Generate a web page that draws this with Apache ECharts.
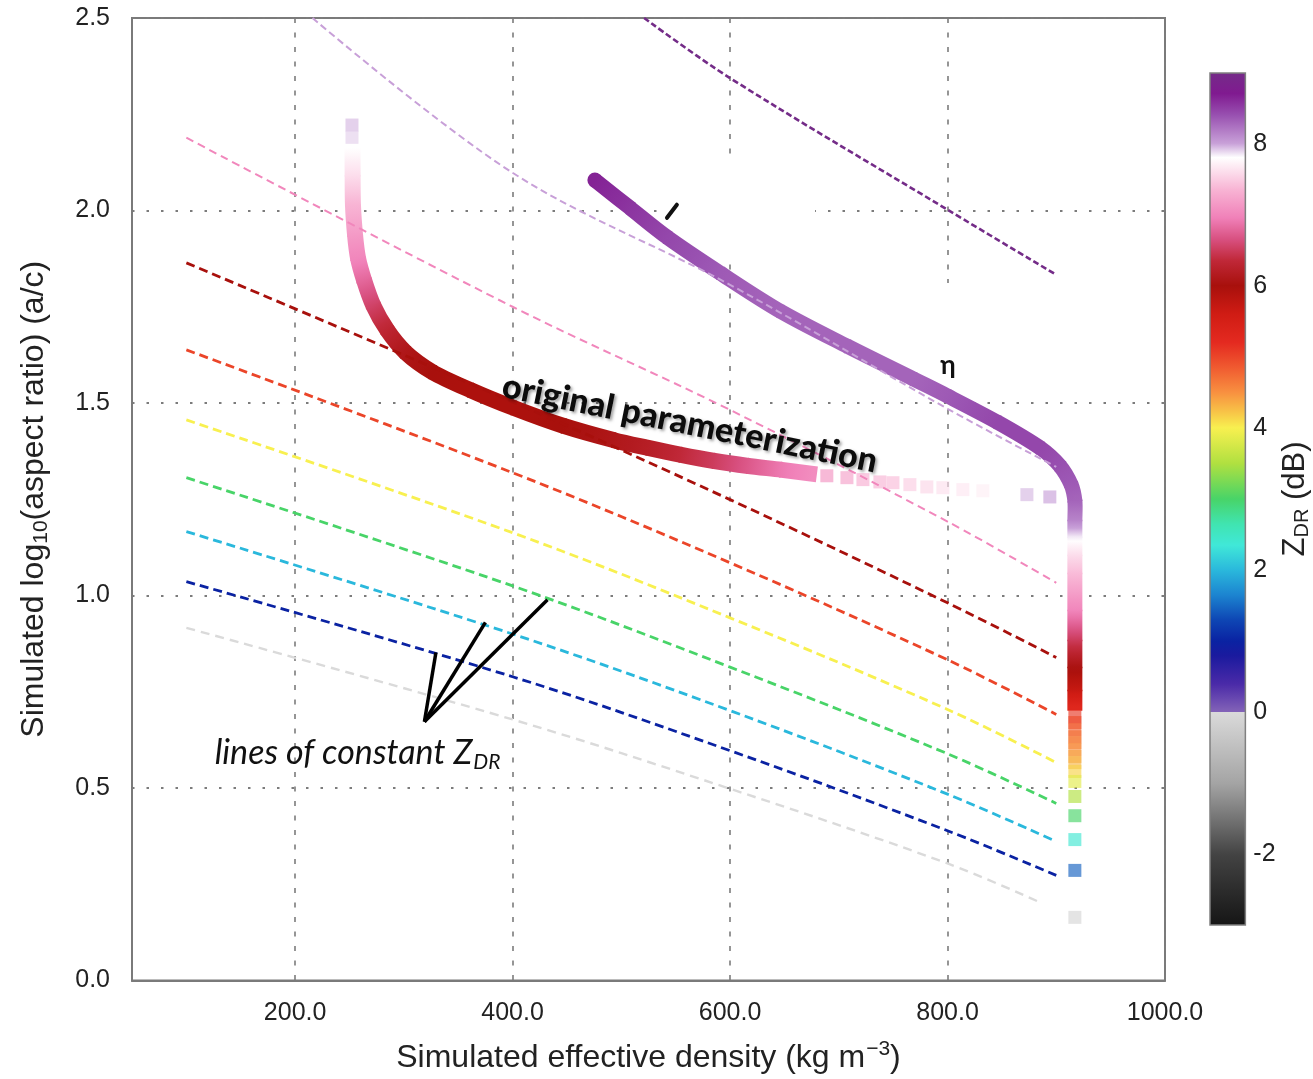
<!DOCTYPE html>
<html>
<head>
<meta charset="utf-8">
<script src="https://cdn.jsdelivr.net/npm/echarts@6/dist/echarts.min.js"></script>
<style>
  html, body { margin: 0; padding: 0; background: #ffffff; }
  #chart { width: 1313px; height: 1079px; }
</style>
</head>
<body>
<div id="chart"></div>
<script>
// ---- Data -----------------------------------------------------------------
// Axis ticks
const densityTicks = [200, 400, 600, 800, 1000];
const zdrTicks = [-2, 0, 2, 4, 6, 8];

// Lines of constant Z_DR (dB): [density kg m^-3, log10 aspect ratio]
const zdrLevels = [0, 1, 2, 3, 4, 5, 6, 7, 8, 9];
const zdrLine0 = [[100, 0.916], [400, 0.678], [600, 0.498], [800, 0.304], [885, 0.203]];
const zdrLine1 = [[100, 1.036], [400, 0.789], [600, 0.597], [800, 0.389], [900, 0.273]];
const zdrLine2 = [[100, 1.166], [400, 0.900], [600, 0.701], [800, 0.484], [900, 0.361]];
const zdrLine3 = [[100, 1.306], [400, 1.025], [600, 0.814], [800, 0.589], [900, 0.460]];
const zdrLine4 = [[100, 1.456], [400, 1.163], [600, 0.942], [800, 0.704], [900, 0.566]];
const zdrLine5 = [[100, 1.638], [400, 1.319], [600, 1.085], [800, 0.833], [900, 0.691]];
const zdrLine6 = [[100, 1.864], [400, 1.503], [600, 1.249], [800, 0.981], [900, 0.839]];
const zdrLine7 = [[100, 2.189], [400, 1.750], [600, 1.482], [800, 1.192], [900, 1.033]];
const zdrLine8 = [[216, 2.500], [400, 2.098], [600, 1.807], [800, 1.485], [900, 1.334]];
const zdrLine9 = [[521, 2.500], [600, 2.344], [800, 2.002], [900, 1.833]];
const zdrLines = [zdrLine0, zdrLine1, zdrLine2, zdrLine3, zdrLine4,
                  zdrLine5, zdrLine6, zdrLine7, zdrLine8, zdrLine9];

// Original parameterization: [density, log10 aspect ratio, Z_DR]
const originalDense = [
  [252.8, 2.163, 7.8], [252.9, 2.092, 7.6], [253.2, 2.015, 7.35], [255.1, 1.937, 7.15],
  [257.8, 1.877, 7.0], [263.3, 1.820, 6.8], [271.6, 1.755, 6.55], [284.5, 1.690, 6.3],
  [301.0, 1.633, 6.1], [325.9, 1.581, 6.0], [360.8, 1.534, 5.95], [400.3, 1.488, 5.95],
  [446.3, 1.441, 6.0], [492.3, 1.404, 6.1], [523.6, 1.384, 6.2], [553.9, 1.366, 6.35],
  [584.3, 1.350, 6.5], [615.5, 1.337, 6.7], [645.9, 1.327, 6.9], [676.2, 1.316, 7.05]
];
const originalSparse = [
  [252.3, 2.222, 7.95], [252.3, 2.190, 7.9],
  [689.0, 1.311, 7.1], [707.5, 1.306, 7.2], [722.2, 1.301, 7.3], [737.8, 1.295, 7.35],
  [749.8, 1.293, 7.4], [765.4, 1.288, 7.5], [781.0, 1.282, 7.55], [795.7, 1.280, 7.6],
  [814.1, 1.275, 7.65], [832.5, 1.272, 7.7], [852.8, 1.267, 7.8], [873.0, 1.262, 7.95],
  [894.1, 1.256, 8.0]
];

// Revised parameterization: [density, log10 aspect ratio, Z_DR]
const revisedDense = [
  [475.7, 2.079, 8.65], [507.9, 2.007, 8.55], [542.0, 1.931, 8.45], [590.7, 1.838, 8.35],
  [645.9, 1.739, 8.3], [707.5, 1.648, 8.3], [768.2, 1.563, 8.3], [799.4, 1.519, 8.35],
  [845.4, 1.451, 8.45], [884.9, 1.384, 8.45], [903.3, 1.337, 8.4], [913.4, 1.290, 8.35],
  [917.1, 1.247, 8.3], [917.1, 1.197, 8.15], [917.1, 1.153, 7.85], [917.1, 1.106, 7.6],
  [917.1, 1.059, 7.4], [917.1, 0.963, 7.0], [917.1, 0.885, 6.5], [917.1, 0.815, 6.05],
  [917.1, 0.755, 5.7], [917.1, 0.711, 5.3]
];
const revisedSparse = [
  [917.1, 0.685, 5.1], [917.1, 0.670, 4.95], [917.1, 0.652, 4.8], [917.1, 0.633, 4.7],
  [917.1, 0.618, 4.6], [917.1, 0.600, 4.5], [917.1, 0.582, 4.4], [917.1, 0.566, 4.3],
  [917.1, 0.543, 4.15], [917.1, 0.517, 3.85], [917.1, 0.478, 3.5], [917.1, 0.428, 3.0],
  [917.1, 0.366, 2.4], [917.1, 0.286, 1.45], [917.1, 0.164, -0.1]
];

// ---- Colour scale for Z_DR --------------------------------------------------
const ZDR_MIN = -3, ZDR_MAX = 9;
const ZDR_COLOR_STOPS = [
  [-3, '#151515'], [-2, '#434343'], [-1, '#a4a4a4'], [0, '#dadada'],
  [0.0001, '#8464b8'], [0.4, '#4a2aa8'], [0.8, '#1a1a9e'], [1.0, '#0a22a2'],
  [1.3, '#0e46b4'], [1.65, '#1c84d0'], [2.0, '#2ab8dc'], [2.35, '#40e8d8'],
  [2.65, '#40e4b0'], [3.0, '#48d468'], [3.5, '#b0e040'], [4.0, '#f8f050'],
  [4.2, '#f8c848'], [4.5, '#f89040'], [4.85, '#f05a30'], [5.2, '#e42a20'],
  [5.6, '#d01c14'], [6.0, '#a8100c'], [6.35, '#c02838'], [6.65, '#d85080'],
  [6.95, '#f080b8'], [7.35, '#f8b4d4'], [7.8, '#ffffff'], [8.0, '#c8a0d8'],
  [8.4, '#9850b0'], [8.7, '#801a90'], [9, '#742c88']
];

function hexRgb(h) {
  return [parseInt(h.slice(1, 3), 16), parseInt(h.slice(3, 5), 16), parseInt(h.slice(5, 7), 16)];
}
function zdrColor(v) {
  const s = ZDR_COLOR_STOPS;
  if (v <= s[0][0]) return s[0][1];
  if (v >= s[s.length - 1][0]) return s[s.length - 1][1];
  for (let i = 0; i < s.length - 1; i++) {
    if (v >= s[i][0] && v <= s[i + 1][0]) {
      const t = (v - s[i][0]) / (s[i + 1][0] - s[i][0]);
      const a = hexRgb(s[i][1]), b = hexRgb(s[i + 1][1]);
      const c = a.map((x, k) => Math.round(x + (b[k] - x) * t));
      return 'rgb(' + c.join(',') + ')';
    }
  }
  return s[s.length - 1][1];
}

// ---- Series builders -------------------------------------------------------
const FONT = '"Liberation Sans", Arial, Helvetica, sans-serif';
const NOTE_FONT = 'Lato, "Open Sans", sans-serif';

// thick curve: a smooth (Catmull-Rom) gradient-coloured piece between each pair of points
function thickCurve(name, data, width, roundStart) {
  return {
    type: 'custom', name: name, data: data, z: 2, silent: true,
    encode: { x: 0, y: 1 },
    renderItem: function (params, api) {
      const i = params.dataIndexInside;
      const n = params.dataInsideLength;
      if (i >= n - 1) return null;
      const pt = function (k) {
        k = Math.max(0, Math.min(n - 1, k));
        return api.coord([api.value(0, k), api.value(1, k)]);
      };
      const pm = pt(i - 1), p0 = pt(i), p1 = pt(i + 1), p2 = pt(i + 2);
      const z0 = api.value(2, i), z1 = api.value(2, i + 1);
      const c1 = [p0[0] + (p1[0] - pm[0]) / 6, p0[1] + (p1[1] - pm[1]) / 6];
      const c2 = [p1[0] - (p2[0] - p0[0]) / 6, p1[1] - (p2[1] - p0[1]) / 6];
      // push the end a little along its tangent so consecutive pieces overlap
      let dx = p1[0] - c2[0], dy = p1[1] - c2[1];
      let len = Math.hypot(dx, dy);
      if (len < 1e-6) { dx = p1[0] - p0[0]; dy = p1[1] - p0[1]; len = Math.hypot(dx, dy) || 1; }
      const ext = (i < n - 2) ? 1.5 : 4;
      const ex = dx / len * ext, ey = dy / len * ext;
      const stops = [];
      for (let k = 0; k <= 4; k++) {
        const t = k / 4;
        stops.push({ offset: t, color: zdrColor(z0 + (z1 - z0) * t) });
      }
      const piece = {
        type: 'bezierCurve',
        shape: {
          x1: p0[0], y1: p0[1], x2: p1[0] + ex, y2: p1[1] + ey,
          cpx1: c1[0], cpy1: c1[1], cpx2: c2[0] + ex, cpy2: c2[1] + ey
        },
        style: {
          fill: 'none',
          stroke: new echarts.graphic.LinearGradient(p0[0], p0[1], p1[0] + 0.01, p1[1] + 0.01, stops, true),
          lineWidth: width,
          lineCap: 'butt'
        }
      };
      if (i === 0 && roundStart) {
        return {
          type: 'group',
          children: [
            { type: 'circle', shape: { cx: p0[0], cy: p0[1], r: width / 2 }, style: { fill: zdrColor(z0) } },
            piece
          ]
        };
      }
      return piece;
    }
  };
}

function squares(name, data) {
  return {
    type: 'scatter', name: name, data: data, z: 2, silent: true,
    symbol: 'rect', symbolSize: 13,
    encode: { x: 0, y: 1 },
    itemStyle: { color: function (p) { return zdrColor(p.value[2]); }, opacity: 0.65 }
  };
}

function lineStyleFor(level) {
  if (level === 9) return { width: 2.6, type: [6, 3] };
  if (level === 8) return { width: 2.0, type: [7, 4] };
  if (level === 7) return { width: 2.0, type: [8, 5] };
  if (level === 0) return { width: 2.4, type: [9, 6] };
  return { width: 2.8, type: [9, 5] };
}

const constantZdrSeries = zdrLevels.map(function (level, i) {
  const st = lineStyleFor(level);
  return {
    type: 'line', name: 'ZDR ' + level, data: zdrLines[i],
    showSymbol: false, symbol: 'none', smooth: 0.35, z: 3, silent: true,
    lineStyle: { color: zdrColor(level), width: st.width, type: st.type }
  };
});

// ---- Option ----------------------------------------------------------------
const option = {
  animation: false,
  backgroundColor: '#ffffff',
  grid: [
    { left: 132, right: 148, top: 18, bottom: 98, show: true,
      borderColor: '#7a7a7a', borderWidth: 2, backgroundColor: 'transparent' },
    { left: 1210, top: 73, width: 43, height: 852, show: false }
  ],
  xAxis: [
    {
      gridIndex: 0, type: 'value', min: 50, max: 1000,
      axisLine: { show: true, lineStyle: { color: '#7a7a7a', width: 2 } },
      axisTick: { show: false, customValues: densityTicks },
      axisLabel: {
        customValues: densityTicks,
        formatter: function (v) { return v.toFixed(1); },
        fontSize: 25, color: '#222', fontFamily: FONT, margin: 20
      },
      splitLine: { show: true, lineStyle: { color: '#7c7c7c', width: 1.6, type: [5, 9.5] } },
      name: '{n|Simulated effective density (kg m}{p|\u22123}{n|)}',
      nameLocation: 'middle', nameGap: 58,
      nameTextStyle: {
        color: '#222', fontFamily: FONT,
        rich: {
          n: { fontSize: 32, fontFamily: FONT, color: '#222' },
          p: { fontSize: 21, fontFamily: FONT, color: '#222', padding: [0, 0, 18, 1] }
        }
      }
    },
    { gridIndex: 1, type: 'value', min: 0, max: 1, show: false }
  ],
  yAxis: [
    {
      gridIndex: 0, type: 'value', min: 0, max: 2.5, interval: 0.5,
      axisLine: { show: true, lineStyle: { color: '#7a7a7a', width: 2 } },
      axisTick: { show: false },
      axisLabel: {
        formatter: function (v) { return v.toFixed(1); },
        fontSize: 25, color: '#222', fontFamily: FONT, margin: 22
      },
      splitLine: { show: true, lineStyle: { color: '#7c7c7c', width: 2, type: [2.5, 12] } },
      name: '{n|Simulated log}{s|10}{n|(aspect ratio) (a/c)}',
      nameLocation: 'middle', nameRotate: 90, nameGap: 80,
      nameTextStyle: {
        color: '#222', fontFamily: FONT,
        rich: {
          n: { fontSize: 32, fontFamily: FONT, color: '#222' },
          s: { fontSize: 21, fontFamily: FONT, color: '#222', padding: [14, 0, 0, 0] }
        }
      }
    },
    {
      gridIndex: 1, type: 'value', min: ZDR_MIN, max: ZDR_MAX, position: 'right',
      axisLine: { show: false },
      axisTick: { show: true, customValues: zdrTicks, length: 6, lineStyle: { color: '#555', width: 1.5 } },
      axisLabel: { customValues: zdrTicks, fontSize: 25, color: '#222', fontFamily: FONT, margin: 8 },
      splitLine: { show: false },
      name: '{n|Z}{s|DR}{n| (dB)}',
      nameLocation: 'middle', nameRotate: 90, nameGap: 30,
      nameTextStyle: {
        color: '#222', fontFamily: FONT,
        rich: {
          n: { fontSize: 31, fontFamily: FONT, color: '#222' },
          s: { fontSize: 20, fontFamily: FONT, color: '#222', padding: [14, 0, 0, 0] }
        }
      }
    }
  ],
  series: [
    thickCurve('original parameterization', originalDense, 16, false),
    squares('original parameterization (sparse)', originalSparse),
    thickCurve('revised', revisedDense, 15, true),
    squares('revised (sparse)', revisedSparse),
    ...constantZdrSeries,
    {
      // arrows pointing from the label to the constant-Z_DR lines
      type: 'lines', coordinateSystem: 'cartesian2d', z: 5, silent: true,
      lineStyle: { color: '#000', width: 3.5, opacity: 1, curveness: 0 },
      data: [
        { coords: [[318.9, 0.672], [329.5, 0.852]] },
        { coords: [[318.9, 0.672], [375.0, 0.930]] },
        { coords: [[318.9, 0.672], [432.1, 0.989]] }
      ]
    },
    {
      // colour bar
      type: 'custom', xAxisIndex: 1, yAxisIndex: 1, silent: true,
      data: [[0, ZDR_MIN]],
      renderItem: function (params, api) {
        const top = api.coord([0, ZDR_MAX]);
        const bot = api.coord([1, ZDR_MIN]);
        const stops = ZDR_COLOR_STOPS.map(function (s) {
          return { offset: (ZDR_MAX - s[0]) / (ZDR_MAX - ZDR_MIN), color: s[1] };
        }).sort(function (a, b) { return a.offset - b.offset; });
        return {
          type: 'rect',
          shape: { x: top[0], y: top[1], width: bot[0] - top[0], height: bot[1] - top[1] },
          style: {
            fill: new echarts.graphic.LinearGradient(0, 0, 0, 1, stops),
            stroke: '#808080', lineWidth: 1.5
          }
        };
      }
    }
  ]
};

const chart = echarts.init(document.getElementById('chart'), null, { renderer: 'canvas' });
chart.setOption(option);

// ---- Annotations (anchored in data coordinates) ----------------------------
function px(pt) { return chart.convertToPixel({ gridIndex: 0 }, pt); }
function blank(x0, y0, x1, y1) {
  const a = px([x0, y0]), b = px([x1, y1]);
  return {
    type: 'rect', z: 1, silent: true,
    shape: { x: Math.min(a[0], b[0]), y: Math.min(a[1], b[1]),
             width: Math.abs(b[0] - a[0]), height: Math.abs(b[1] - a[1]) },
    style: { fill: '#ffffff' }
  };
}
const labelPos = px([563, 1.446]);
const zdrLabelPos = px([126, 0.590]);
const tickA = px([542.0, 1.981]), tickB = px([551.1, 2.015]);
const etaPos = px([800.3, 1.597]);

chart.setOption({
  graphic: [
    blank(532.9, 2.124, 678.2, 1.864),
    blank(784, 1.812, 816, 1.534),
    {
      type: 'text', z: 10, silent: true,
      x: labelPos[0], y: labelPos[1], rotation: -0.2,
      style: {
        text: 'original parameterization',
        fontFamily: NOTE_FONT, fontWeight: 900, fontSize: 34,
        fill: '#0c0c0c', align: 'center', verticalAlign: 'middle',
        textAlign: 'center', textVerticalAlign: 'middle',
        textShadowColor: 'rgba(0,0,0,0.35)', textShadowBlur: 3,
        textShadowOffsetX: 2, textShadowOffsetY: 2
      }
    },
    {
      type: 'text', z: 10, silent: true,
      x: zdrLabelPos[0], y: zdrLabelPos[1],
      style: {
        text: '{m|lines of constant Z}{s|DR}',
        fill: '#111', align: 'left', verticalAlign: 'middle',
        textAlign: 'left', textVerticalAlign: 'middle',
        rich: {
          m: { fontFamily: NOTE_FONT, fontStyle: 'italic', fontSize: 34, fill: '#111', color: '#111' },
          s: { fontFamily: NOTE_FONT, fontStyle: 'italic', fontSize: 21, fill: '#111', color: '#111', padding: [17, 0, 0, 1] }
        }
      }
    },
    {
      type: 'line', z: 10, silent: true,
      shape: { x1: tickA[0], y1: tickA[1], x2: tickB[0], y2: tickB[1] },
      style: { stroke: '#111', lineWidth: 4, lineCap: 'round' }
    },
    {
      type: 'text', z: 10, silent: true,
      x: etaPos[0], y: etaPos[1],
      style: {
        text: '\u03b7', fontFamily: NOTE_FONT, fontWeight: 'bold', fontSize: 26,
        fill: '#111', align: 'center', verticalAlign: 'middle',
        textAlign: 'center', textVerticalAlign: 'middle'
      }
    }
  ]
});
</script>
</body>
</html>
